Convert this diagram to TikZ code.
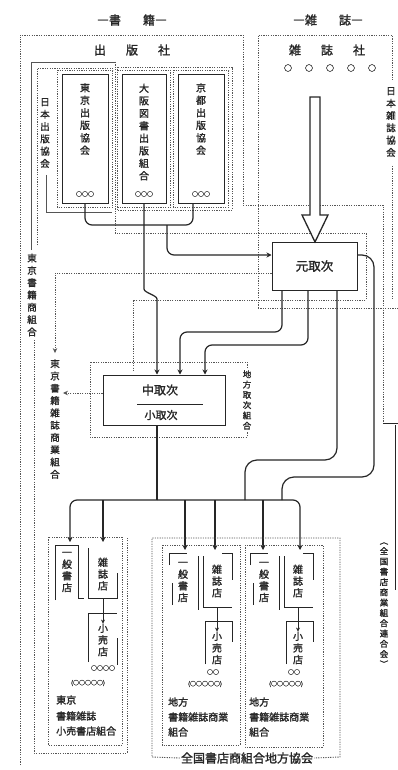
\documentclass[tikz,border=0pt]{standalone}
\usepackage{fontspec}
\setmainfont{Noto Sans CJK JP}[FakeBold=1.6]
\usetikzlibrary{arrows.meta,calc}
\definecolor{ink}{HTML}{262626}
\definecolor{dotc}{HTML}{555555}
\tikzset{
  cn/.style={draw=ink, line width=1.2pt, rounded corners=7pt},
  cna/.style={cn, -{Stealth[length=5pt,width=5pt]}},
  br/.style={draw=ink, line width=1pt},
  bra/.style={br, -{Stealth[length=4pt,width=4pt]}},
  sl/.style={draw=dotc, line width=0.8pt},
  dl/.style={draw=dotc, line width=0.9pt, dash pattern=on 1.2pt off 1.2pt},
  dla/.style={dl, -{Stealth[length=5pt,width=4.5pt]}},
  bx/.style={draw=ink, line width=1pt, inner sep=0},
  vt/.style={align=center, inner sep=0, text=ink, font=\fontsize{10}{11.7}\selectfont},
  vtp/.style={align=center, inner sep=0, text=ink, font=\fontsize{10}{12.5}\selectfont},
  vtw/.style={align=center, inner sep=0, text=ink, font=\fontsize{9.5}{12.3}\selectfont},
  vts/.style={align=center, inner sep=0, text=ink, font=\fontsize{8.5}{10.3}\selectfont},
  hd/.style={inner sep=0, text=ink, font=\fontsize{12}{14}\selectfont},
  tx/.style={inner sep=0, text=ink, anchor=west, font=\fontsize{10}{12}\selectfont},
  tiny/.style={inner sep=0, text=ink, font=\fontsize{6}{7}\selectfont}
}
\begin{document}
\begin{tikzpicture}[x=1pt,y=-1pt]
\fill[white] (0,0) rectangle (398,770);
\useasboundingbox (0,0) rectangle (398,770);

% headings
\node[hd] (tsho) at (132,20) {―書\hspace{22pt}籍―};
\node[hd] (tzas) at (328,20) {―雑\hspace{22pt}誌―};
\node[hd] (shup) at (132,50) {出\hspace{20pt}版\hspace{20pt}社};
\node[hd] (zass) at (327,50) {雑\hspace{20pt}誌\hspace{20pt}社};
\node[inner sep=0, text=ink, font=\fontsize{8}{9}\selectfont] (circ) at (330,68) {○\hspace{13pt}○\hspace{13pt}○\hspace{13pt}○\hspace{13pt}○};

% dotted frames
\draw[dl] (20,765) -- (20,35) -- (243,35) -- (243,205) -- (383,205) -- (383,423);
\draw[br] (383,423) -- (398,423);
\draw[sl] (31,250) -- (31,62) -- (115,62);
\draw[dl] (115,62) -- (115,233) -- (366,233) -- (366,300) -- (133,300) -- (133,372);
\draw[dl] (37,245) -- (37,68) -- (113,68);
\draw[dl] (34,340) -- (34,753) -- (127,753) -- (127,538);
\draw[dl] (258,308) -- (258,35) -- (392,35) -- (392,80);
\draw[dl] (392,166) -- (392,300);
\draw[dl] (258,308) -- (398,308);
\draw[dl] (117,67) rectangle (232,210);
\draw[sl] (46,175) -- (46,212) -- (112,212);
\draw[br] (395,425) -- (395,590);

% publishers
\node[bx, minimum width=46, minimum height=128] (pb1) at (85,139) {};
\node[bx, minimum width=44, minimum height=128] (pb2) at (144,139) {};
\node[bx, minimum width=46, minimum height=128] (pb3) at (201,139) {};
\foreach \b in {pb1,pb2,pb3}{
  \draw[dl] ($(\b.south west)+(-4,4)$) rectangle ($(\b.north east)+(4,-4)$);
}
\node[vtp] (pt1) at (85,119) {東\\京\\出\\版\\協\\会};
\node[vtp] (pt2) at (144,132) {大\\阪\\図\\書\\出\\版\\組\\合};
\node[vtp] (pt3) at (201,119) {京\\都\\出\\版\\協\\会};
\node[tiny] (pc1) at (85,194) {○○○};
\node[tiny] (pc2) at (144,194) {○○○};
\node[tiny] (pc3) at (201,194) {○○○};
\node[vtw] (nihonsho) at (45,133) {日\\本\\出\\版\\協\\会};
\node[vtw] (nihonzas) at (391,122) {日\\本\\雑\\誌\\協\\会};
\node[vtw] (tkshoseki) at (32,295) {東\\京\\書\\籍\\商\\組\\合};
\node[vtw] (tkshoshi) at (55,419) {東\\京\\書\\籍\\雑\\誌\\商\\業\\組\\合};

% hollow arrow from magazine publishers
\draw[ink, line width=1.3pt, fill=white] (310,97) -- (320,97) -- (320,215) -- (328,215) -- (315,242) -- (302,215) -- (310,215) -- cycle;

% moto toritsugi
\node[bx, minimum width=85, minimum height=48, font=\fontsize{12.5}{14}\selectfont, text=ink] (moto) at (314.5,266) {元取次};

% naka / sho toritsugi
\draw[dl] (247,368) -- (247,362) -- (90,362) -- (90,437) -- (247,437) -- (247,432);
\node[bx, minimum width=122, minimum height=50] (naka) at (164,400) {};
\node[hd] (nakat) at (160,390) {中取次};
\node[inner sep=0, text=ink, font=\fontsize{11}{13}\selectfont] (shot) at (161,415) {小取次};
\draw[br] (137,404) -- (203,404);
\node[vts] (chiho) at (247,400) {地\\方\\取\\次\\組\\合};

% connectors from publishers
\draw[cn] (pb1.south) -- (85,225) -- (193,225) -- ($(pb3.south)+(-8,0)$);
\draw[cna] (pb2.south) -- (144,282) to[out=-90,in=90] (157,306) -- ($(naka.north)+(-7,0)$);
\draw[cna] (167,225) -- (167,255) -- ($(moto.west)+(0,-11)$);

% connectors from moto
\draw[cna] ($(moto.south)+(-32.5,0)$) -- (282,332) -- (180,332) -- ($(naka.north)+(16,0)$);
\draw[cna] ($(moto.south)+(-6.5,0)$) -- (308,345) -- (205,345) -- ($(naka.north)+(41,0)$);
\draw[cn, rounded corners=12pt] ($(moto.south)+(22.5,0)$) -- (337,460) -- (245,460) -- (245,500);
\draw[cn, rounded corners=12pt] ($(moto.east)+(0,-11)$) -- (374,255) -- (374,477) -- (282,477) -- (282,500);
\draw[dla] ($(moto.west)+(0,7)$) -- (55,273) -- ($(tkshoshi.north)+(0,-6)$);
\draw[dla] ($(naka.west)+(0,-7)$) -- ($(tkshoshi.east)+(3,-26)$);

% main distribution bus
\draw[cn] ($(naka.south)+(-7,0)$) -- (157,500);
\draw[cna] (157,500) -- (70,500) -- (70,542);
\draw[cna] (157,500) -- (300,500) -- (300,550);
\draw[cna] (103,500) -- (103,542);
\draw[cna] (185,500) -- (185,550);
\draw[cna] (215,500) -- (215,550);
\draw[cna] (263,500) -- (263,550);

% left shop group
\draw[dl] (48,537) rectangle (122,745);
\node[vt] (l1) at (67,572) {一\\般\\書\\店};
\draw[br] (55,600) -- (55,545) -- (78,545) -- (78,598) -- (84,598);
\node[vt] (l2) at (103,574) {雑\\誌\\店};
\draw[br] (88,548) -- (88,598) -- (117,598) -- (117,573);
\node[vt] (l3) at (103,640) {小\\売\\店};
\draw[bra] (103,598) -- (l3.north);
\draw[br] (88,662) -- (88,613) -- (117,613);
\draw[br] (117,638) -- (117,665);
\node[tiny] (lc1) at (103,668) {○○○○};
\node[tiny] (lc2) at (88,683) {(○○○○○)};
\node[tx] (lt1) at (56,700) {東京};
\node[tx] (lt2) at (56,716) {書籍雑誌};
\node[tx] (lt3) at (56,731) {小売書店組合};

% middle and right shop groups
\draw[dl] (162,545) rectangle (240,745);
\draw[dl] (245,545) rectangle (323,747);
\foreach \dx/\p in {0/m,81/r}{
  \begin{scope}[xshift=\dx]
    \node[vt] (\p1) at (183,582) {一\\般\\書\\店};
    \draw[br] (169,565) -- (169,553) -- (187,553);
    \draw[br] (172,583) -- (172,605);
    \node[vt] (\p2) at (217,581) {雑\\誌\\店};
    \draw[br] (198,556) -- (198,610);
    \draw[br] (203,556) -- (203,607) -- (232,607);
    \draw[br] (222,553) -- (232,553) -- (232,580);
    \node[vt] (\p3) at (217,648) {小\\売\\店};
    \draw[bra] (217,607) -- (\p3.north);
    \draw[br] (205,664) -- (205,621) -- (232,621) -- (232,642);
    \node[tiny] (\p c1) at (213,672) {○○};
    \node[tiny] (\p c2) at (205,684) {(○○○○○)};
    \node[tx] (\p t1) at (168,702) {地方};
    \node[tx] (\p t2) at (168,717) {書籍雑誌商業};
    \node[tx] (\p t3) at (168,732) {組合};
  \end{scope}
}
\node[inner sep=1pt, text=ink, font=\fontsize{12}{14}\selectfont] (zchiho) at (247,758) {全国書店商組合地方協会};
\draw[dl] (zchiho.west) -- (152,757) -- (152,538) -- (340,538) -- (340,757) -- (zchiho.east);
\node[vts] (zenkoku) at (384,605) {︵\\全\\国\\書\\店\\商\\業\\組\\合\\連\\合\\会\\︶};
\end{tikzpicture}
\end{document}
